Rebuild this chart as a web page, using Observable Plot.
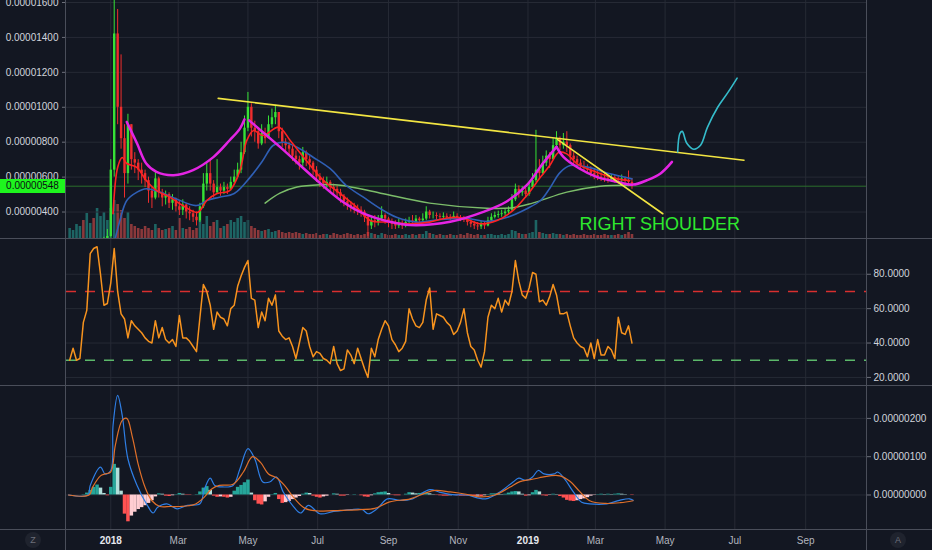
<!DOCTYPE html>
<html>
<head>
<meta charset="utf-8">
<script src="https://cdn.jsdelivr.net/npm/d3@7"></script>
<script src="https://cdn.jsdelivr.net/npm/@observablehq/plot@0.6"></script>
<style>
  html, body { margin: 0; padding: 0; background: #131722; }
  #chart { position: relative; width: 932px; height: 550px; background: #131722; overflow: hidden;
           font-family: "Liberation Sans", Arial, sans-serif; }
  #chart svg { position: absolute; left: 0; }
  .sep { position: absolute; background: #4a4e5a; }
  .lastbox { position: absolute; left: 0; top: 179px; width: 65px; height: 14px; background: #1ef51e;
             color: #0b0e14; font-size: 10px; line-height: 14px; text-align: center; }
  .btn { position: absolute; width: 16px; height: 16px; border-radius: 8px; background: #1f232e;
         color: #6d707b; font-size: 9px; line-height: 16px; text-align: center; }
</style>
</head>
<body>
<div id="chart"></div>
<script>
// ---------------- DATA (prices in units of 1e-8 BTC) ----------------
const candleStart = "2017-11-26";   // first sampled day
const stepDays = 3;                 // one sample every 3 days
const firstOpen = 165;

const closes = [170,175,180,190,185,200,210,205,220,230,240,260,
  640,1420,1000,820,620,900,700,680,640,620,580,520,480,590,510,480,500,450,470,430,410,440,400,390,370,350,
  430,560,620,560,510,540,520,540,530,570,600,640,740,880,1000,880,860,790,850,820,900,940,970,860,800,780,760,
  720,700,680,740,700,680,640,600,580,560,570,540,530,510,490,460,440,430,420,410,400,370,320,350,340,360,380,
  360,340,330,320,330,320,340,350,340,360,350,360,400,380,380,375,370,375,370,368,375,365,360,355,340,330,320,
  315,330,320,350,370,380,385,390,400,410,470,530,510,520,500,540,580,640,620,680,720,700,780,820,780,800,780,
  720,700,680,660,650,640,620,610,600,595,590,585,595,585,580,590,575,570,548];

const highs = [180,185,195,200,200,215,225,220,235,245,255,300,
  700,1650,1560,1300,900,960,800,740,700,680,640,600,540,630,600,530,520,510,500,480,460,470,450,430,410,400,
  450,620,680,700,580,700,560,570,560,600,640,680,800,950,1085,1020,920,880,900,880,950,990,1011,960,880,820,800,
  780,750,720,770,750,720,690,660,620,600,600,580,560,550,530,500,480,460,450,440,430,410,380,370,380,380,430,
  390,370,360,350,360,350,360,370,380,380,370,390,430,410,400,395,390,395,390,385,400,390,380,375,365,355,345,
  340,345,340,370,390,400,405,410,420,430,500,560,550,545,535,570,620,868,700,720,750,740,820,860,830,850,860,
  790,740,720,700,690,670,660,650,640,625,620,610,615,610,605,612,600,635,590];

const lows = [160,165,170,175,178,185,195,195,205,215,225,200,
  250,600,900,760,480,560,640,620,580,560,540,450,420,470,480,430,440,420,410,400,380,380,360,350,340,320,
  340,420,520,520,480,500,490,500,500,520,560,590,620,730,860,830,800,760,780,790,820,880,900,820,770,740,720,
  690,670,640,660,660,640,610,570,540,530,530,510,500,480,450,430,410,400,390,380,370,340,260,300,310,320,350,
  330,310,300,300,305,300,310,320,320,330,330,340,350,360,360,355,355,360,355,350,360,350,345,340,320,310,300,
  295,300,300,315,340,360,365,370,375,385,400,460,480,490,480,490,530,570,590,610,660,650,700,760,750,760,740,
  690,670,650,640,630,615,600,585,580,575,570,565,570,565,560,565,555,545,530];

const volumes = [10,8,14,12,18,25,15,20,30,22,26,18,30,
  38,34,28,20,26,
  14,12,10,9,12,10,8,14,10,8,9,10,12,8,20,10,9,11,8,10,
  18,14,22,12,16,18,10,12,14,18,16,20,22,16,18,
  12,10,8,7,8,9,6,7,8,6,5,6,5,6,5,4,5,4,
  4,5,3,4,4,3,5,4,3,4, 5,4,3,4,3,4,6,5,4,3, 5,4,3,3,4,3,3,4,3,4, 3,4,4,7,5,4,3,4,3,3,
  4,3,3,4,3,5,4,3,4,3, 3,4,4,3,3,4,3,4,8,7, 5,4,4,5,6,18,6,5,4,4, 5,4,4,3,4,3,4,3,3,4,
  3,3,4,3,3,4,3,3,3,4, 3,4,6,4];

const rsiValues = [30,37,30,31,52,59,92,95,96,80, 62,63,75,95,70,57,54,43,53,50,
  48,46,43,41,40,53,43,49,42,40, 42,38,56,43,43,41,38,35,55,74, 70,62,48,58,55,54,50,60,62,73,
  79,84,88,66,65,49,58,53,66,62, 68,47,44,42,43,38,31,40,49,47, 38,32,35,34,31,30,28,38,28,24,
  25,36,33,28,37,31,25,20,37,32, 42,48,53,50,42,39,35,37,41,60, 54,50,49,52,65,72,48,57,56,55,
  52,50,45,47,52,60,46,38,36,30, 26,35,55,62,60,66,58,65,62,70, 88,76,68,66,72,81,80,64,65,62,
  67,74,68,57,57,58,50,43,40,38, 37,32,40,31,42,33,33,38,36,31, 55,46,45,50,40];

// MACD histogram (units of 1e-8)
const macdHist = [0,0,0,0,1,5,12,20,26,18, 4,-2,20,80,70,10,-50,-70,-55,-45,
  -38,-33,-28,-22,-15,-5,3,2,-3,-4, -2,1,4,2,-1,-1,0,1,8,18, 22,12,-3,-6,-5,-6,-8,-6,10,20,
  25,32,39,5,-15,-24,-26,-18,-6,1, 4,-12,-22,-20,-17,-12,-8,-4,2,5, 4,-3,-6,-8,-5,-3,0,3,2,-3,
  -3,-1,0,1,0,-2,-5,-6,-2,3, 6,7,8,4,-1,-2,-2,0,2,6, 5,3,4,5,5,3,1,-1,-2,-3,
  -3,-2,-1,-2,-3,-3,-3,-4,-4,-3, -4,-2,1,3,3,2,1,2,5,8, 9,8,2,-3,-2,6,12,8,-2,-3,
  -1,2,1,-4,-8,-14,-16,-17,-15,-12, -10,-7,-3,-1,1,2,1,2,1,2, 3,2,1,0,-1];

const macdLine = [["2017-11-25",0],["2017-12-12",0],["2017-12-14",25],["2017-12-23",73],["2017-12-27",55],
  ["2018-01-01",64],["2018-01-03",182],["2018-01-07",260],["2018-01-11",208],["2018-01-16",94],["2018-01-24",25],
  ["2018-02-02",-27],["2018-02-07",-47],["2018-02-11",-32],["2018-02-19",-23],["2018-02-28",-36],["2018-03-09",-27],
  ["2018-03-20",-23],["2018-03-24",16],["2018-03-29",44],["2018-04-02",25],["2018-04-09",21],["2018-04-18",25],
  ["2018-04-24",68],["2018-05-01",121],["2018-05-07",94],["2018-05-14",34],["2018-05-20",34],["2018-05-26",47],
  ["2018-06-01",7],["2018-06-09",-27],["2018-06-16",-47],["2018-06-23",-27],["2018-07-03",-49],["2018-07-15",-43],
  ["2018-07-30",-38],["2018-08-09",-38],["2018-08-14",-49],["2018-08-22",-36],["2018-08-31",-10],["2018-09-11",-14],
  ["2018-09-22",-10],["2018-10-07",14],["2018-10-16",7],["2018-10-27",1],["2018-11-08",0],["2018-11-25",-10],
  ["2018-12-07",7],["2018-12-19",34],["2018-12-24",44],["2018-12-30",38],["2019-01-05",47],["2019-01-10",64],
  ["2019-01-15",55],["2019-01-24",55],["2019-01-27",60],["2019-02-02",42],["2019-02-10",7],["2019-02-17",-19],
  ["2019-02-24",-23],["2019-03-11",-23],["2019-03-22",-14],["2019-03-31",-10],["2019-04-03",-14]];

const signalLine = [["2017-11-25",0],["2017-12-13",0],["2017-12-16",20],["2017-12-23",50],["2017-12-27",55],
  ["2018-01-01",60],["2018-01-05",130],["2018-01-11",195],["2018-01-15",200],["2018-01-20",150],["2018-01-25",80],
  ["2018-01-31",20],["2018-02-06",-15],["2018-02-13",-30],["2018-02-22",-30],["2018-03-02",-30],["2018-03-15",-25],
  ["2018-03-24",-5],["2018-03-30",15],["2018-04-06",25],["2018-04-18",28],["2018-04-27",60],["2018-05-05",100],
  ["2018-05-12",85],["2018-05-19",55],["2018-05-26",45],["2018-06-02",25],["2018-06-11",-10],["2018-06-20",-35],
  ["2018-07-03",-42],["2018-07-21",-40],["2018-08-07",-38],["2018-08-20",-35],["2018-09-02",-18],["2018-09-20",-10],
  ["2018-10-03",5],["2018-10-12",12],["2018-10-25",8],["2018-11-08",2],["2018-11-20",-5],["2018-12-03",0],
  ["2018-12-16",20],["2018-12-25",35],["2019-01-03",40],["2019-01-11",45],["2019-01-20",50],["2019-01-29",50],
  ["2019-02-07",35],["2019-02-15",10],["2019-02-24",-15],["2019-03-10",-22],["2019-03-23",-20],["2019-04-03",-15]];

// moving averages
const maShort = [["2018-01-03",391],["2018-01-07",655],["2018-01-11",712],["2018-01-15",678],["2018-01-24",655],
  ["2018-02-01",580],["2018-02-10",523],["2018-02-22",484],["2018-03-05",437],["2018-03-18",398],["2018-03-26",466],
  ["2018-04-04",506],["2018-04-15",523],["2018-04-24",638],["2018-04-30",810],["2018-05-06",867],["2018-05-14",838],
  ["2018-05-28",886],["2018-06-07",810],["2018-06-21",695],["2018-07-06",581],["2018-07-21",504],["2018-08-04",428],
  ["2018-08-16",352],["2018-09-02",342],["2018-09-20",333],["2018-10-07",342],["2018-10-22",366],["2018-11-05",366],
  ["2018-11-20",333],["2018-12-05",352],["2018-12-19",409],["2018-12-31",495],["2019-01-12",600],["2019-01-20",666],
  ["2019-01-28",743],["2019-02-04",733],["2019-02-13",676],["2019-03-02",628],["2019-03-20",590],["2019-03-31",581]];
const maMid = [["2018-01-05",250],["2018-01-09",352],["2018-01-15",466],["2018-01-24",514],["2018-02-01",533],
  ["2018-02-13",514],["2018-02-27",476],["2018-03-17",437],["2018-03-26",466],["2018-04-06",485],["2018-04-19",506],
  ["2018-05-03",600],["2018-05-14",695],["2018-05-23",781],["2018-06-01",800],["2018-06-13",771],["2018-06-27",714],
  ["2018-07-12",648],["2018-07-26",552],["2018-08-10",485],["2018-08-25",419],["2018-09-08",370],["2018-09-26",342],
  ["2018-10-16",357],["2018-11-09",363],["2018-11-26",346],["2018-12-14",370],["2018-12-31",419],["2019-01-12",466],
  ["2019-01-20",535],["2019-01-29",626],["2019-02-07",666],["2019-02-22",657],["2019-03-14",619],["2019-04-02",590]];
const maLong = [["2018-05-16",451],["2018-05-29",508],["2018-06-13",543],["2018-07-03",556],["2018-07-21",554],
  ["2018-08-25",508],["2018-10-07",451],["2018-11-26",422],["2018-12-19",425],["2019-01-05",451],
  ["2019-02-04",514],["2019-03-05",548],["2019-04-02",554]];

// hand-drawn annotations
const cupLeft = [["2018-01-15",916],["2018-01-24",792],["2018-02-01",678],["2018-02-10",630],["2018-02-25",611],
  ["2018-03-14",640],["2018-04-01",716],["2018-04-15",811],["2018-04-24",878],["2018-04-28",931]];
const cupMiddle = [["2018-05-02",925],["2018-05-29",773],["2018-06-27",601],["2018-07-21",468],["2018-08-10",392],
  ["2018-09-02",344],["2018-09-20",325],["2018-10-25",344],["2018-11-23",401],["2018-12-13",459],
  ["2018-12-31",554],["2019-01-14",678],["2019-01-26",773]];
const cupRight = [["2019-01-26",773],["2019-02-01",716],["2019-02-15",649],["2019-03-02",601],["2019-03-20",573],
  ["2019-04-03",557],["2019-04-15",582],["2019-04-27",621],["2019-05-07",687]];
const trendTop = [["2018-04-05",1051],["2019-07-09",697]];
const trendRight = [["2019-01-27",815],["2019-04-29",390]];
const projection = [["2019-05-12",744],["2019-05-14",851],["2019-05-16",862],["2019-05-20",794],["2019-05-26",760],
  ["2019-06-01",782],["2019-06-07",885],["2019-06-16",1000],["2019-06-25",1085],["2019-07-03",1167]];
const noteText = "RIGHT SHOULDER";
const notePos = ["2019-02-15", 331];

// axes
const xDomain = ["2017-11-23T06:00:00Z", "2019-10-24T05:00:00Z"];
const timeTicks = ["2018-01-01","2018-03-01","2018-05-01","2018-07-01","2018-09-01","2018-11-01",
  "2019-01-01","2019-03-01","2019-05-01","2019-07-01","2019-09-01"];
const priceTicks = [400,600,800,1000,1200,1400,1600];
const priceDomain = [248.4, 1611.5];
const rsiTicks = [20,40,60,80];
const rsiDomain = [15.3, 100.8];
const rsiLevels = [70, 30];
const macdTicks = [0,100,200];
const macdDomain = [-90.1, 285.9];

// ---------------- BUILD ----------------
const iso = s => new Date(s.length === 10 ? s + "T00:00:00Z" : s);
const pts = arr => arr.map(([d, v]) => ({date: iso(d), value: v}));
const start = iso(candleStart);
const candles = closes.map((c, i) => {
  const o = i ? closes[i - 1] : firstOpen;
  return {date: d3.utcDay.offset(start, i * stepDays), open: o, close: c,
    high: Math.max(highs[i], o, c), low: Math.min(lows[i], o, c),
    vol: volumes[i], rsi: rsiValues[i], hist: macdHist[i],
    histPrev: i ? macdHist[i - 1] : 0};
});
const UP = "#36e236", DOWN = "#ee2d2d";
const candleColor = d => d.close >= d.open ? UP : DOWN;
const GRID = "#262a35";
const X = {type: "utc", domain: xDomain.map(iso)};
const ticksDates = timeTicks.map(iso);
const baseStyle = {background: "transparent", color: "#c9ccd4",
  fontFamily: "'Liberation Sans', Arial, sans-serif", fontSize: "10px", overflow: "visible"};
const fmtSat = v => (v * 1e-8).toFixed(8);

const chart = document.getElementById("chart");
function place(svg, top) { svg.style.top = top + "px"; svg.style.left = "0px"; svg.style.position = "absolute"; chart.appendChild(svg); }

// volume overlay (bottom of price pane)
const volPlot = Plot.plot({
  width: 932, height: 100, marginLeft: 66, marginRight: 66, marginTop: 0, marginBottom: 0,
  style: baseStyle,
  x: {...X, axis: null}, y: {domain: [0, 100], axis: null},
  marks: [
    Plot.ruleX(candles, {x: "date", y1: 0, y2: "vol", stroke: d => d.close >= d.open ? "#26a69a" : "#ef5350",
      strokeOpacity: 0.55, strokeWidth: 2.6})
  ]
});
place(volPlot, 138);

// price pane
const lastClose = closes[closes.length - 1];
const pricePlot = Plot.plot({
  width: 932, height: 238, marginLeft: 66, marginRight: 66, marginTop: 0, marginBottom: 0,
  style: baseStyle,
  x: {...X, axis: null}, y: {domain: priceDomain},
  marks: [
    Plot.gridX(ticksDates, {stroke: GRID, strokeOpacity: 1}),
    Plot.gridY(priceTicks, {stroke: GRID, strokeOpacity: 1}),
    Plot.ruleY([lastClose], {stroke: "#2c6e2c", strokeWidth: 1}),
    Plot.ruleX(candles, {x: "date", y1: "low", y2: "high", stroke: candleColor, strokeWidth: 1, clip: true}),
    Plot.ruleX(candles, {x: "date", y1: "open", y2: "close", stroke: candleColor, strokeWidth: 2.4, clip: true}),
    Plot.line(pts(maLong), {x: "date", y: "value", stroke: "#7cbd6a", strokeWidth: 1.5, curve: "catmull-rom", clip: true}),
    Plot.line(pts(maMid), {x: "date", y: "value", stroke: "#2f5fb5", strokeWidth: 1.6, curve: "catmull-rom", clip: true}),
    Plot.line(pts(maShort), {x: "date", y: "value", stroke: "#ff2222", strokeWidth: 1.6, curve: "catmull-rom", clip: true}),
    Plot.line(pts(cupLeft), {x: "date", y: "value", stroke: "#e424e4", strokeWidth: 2.5, curve: "catmull-rom"}),
    Plot.line(pts(cupMiddle), {x: "date", y: "value", stroke: "#e424e4", strokeWidth: 2.5, curve: "catmull-rom"}),
    Plot.line(pts(cupRight), {x: "date", y: "value", stroke: "#e424e4", strokeWidth: 2.5, curve: "catmull-rom"}),
    Plot.line(pts(trendTop), {x: "date", y: "value", stroke: "#f2e542", strokeWidth: 1.6}),
    Plot.line(pts(trendRight), {x: "date", y: "value", stroke: "#f2e542", strokeWidth: 1.6}),
    Plot.line(pts(projection), {x: "date", y: "value", stroke: "#35bccb", strokeWidth: 1.6, curve: "catmull-rom"}),
    Plot.text([{date: iso(notePos[0]), value: notePos[1], label: noteText}],
      {x: "date", y: "value", text: "label", fill: "#2ee82e", fontSize: 18, textAnchor: "start", lineAnchor: "middle"}),
    Plot.axisY(priceTicks, {anchor: "left", label: null, tickSize: 4, tickPadding: 4, tickFormat: fmtSat, stroke: "#6d707b", fill: "#d1d4dc"})
  ]
});
place(pricePlot, 0);

// RSI pane
const rsiPlot = Plot.plot({
  width: 932, height: 147, marginLeft: 66, marginRight: 66, marginTop: 0, marginBottom: 0,
  style: baseStyle,
  x: {...X, axis: null}, y: {domain: rsiDomain},
  marks: [
    Plot.gridX(ticksDates, {stroke: GRID, strokeOpacity: 1}),
    Plot.gridY(rsiTicks, {stroke: GRID, strokeOpacity: 1}),
    Plot.ruleY([rsiLevels[0]], {stroke: "#d82f2f", strokeWidth: 1.5, strokeDasharray: "10,9"}),
    Plot.ruleY([rsiLevels[1]], {stroke: "#5cb86a", strokeWidth: 1.5, strokeDasharray: "10,9"}),
    Plot.lineY(candles, {x: "date", y: "rsi", stroke: "#f7931e", strokeWidth: 1.5, clip: true}),
    Plot.axisY(rsiTicks, {anchor: "right", label: null, tickSize: 4, tickPadding: 3, tickFormat: d3.format(".4f"), stroke: "#6d707b", fill: "#d1d4dc"})
  ]
});
place(rsiPlot, 238);

// MACD pane + time axis
const histColor = d => d.hist >= 0 ? (d.hist >= d.histPrev ? "#26a69a" : "#b2dfdb")
                                   : (d.hist <= d.histPrev ? "#ff5252" : "#ffcdd2");
const monthFmt = d3.utcFormat("%b");
const macdPlot = Plot.plot({
  width: 932, height: 165, marginLeft: 66, marginRight: 66, marginTop: 0, marginBottom: 21,
  style: baseStyle,
  x: X, y: {domain: macdDomain},
  marks: [
    Plot.gridX(ticksDates, {stroke: GRID, strokeOpacity: 1}),
    Plot.gridY(macdTicks, {stroke: GRID, strokeOpacity: 1}),
    Plot.ruleX(candles, {x: "date", y1: 0, y2: "hist", stroke: histColor, strokeWidth: 3.5}),
    Plot.line(pts(macdLine), {x: "date", y: "value", stroke: "#2f7fe6", strokeWidth: 1.2, curve: "catmull-rom"}),
    Plot.line(pts(signalLine), {x: "date", y: "value", stroke: "#e0702a", strokeWidth: 1.2, curve: "catmull-rom"}),
    Plot.axisY(macdTicks, {anchor: "right", label: null, tickSize: 4, tickPadding: 3, tickFormat: fmtSat, stroke: "#6d707b", fill: "#d1d4dc"}),
    Plot.axisX(ticksDates, {anchor: "bottom", label: null, tickSize: 0, tickPadding: 7, fill: "#b2b5be",
      tickFormat: d => d.getUTCMonth() === 0 ? String(d.getUTCFullYear()) : monthFmt(d)})
  ]
});
place(macdPlot, 385);
d3.select(macdPlot).selectAll("text").each(function () {
  if (/^\d{4}$/.test(this.textContent)) { this.setAttribute("font-weight", "bold"); this.setAttribute("fill", "#e6e8ee"); }
});

// pane separators, last-price label, buttons
function div(cls, css, text) { const e = document.createElement("div"); e.className = cls; Object.assign(e.style, css); if (text) e.textContent = text; chart.appendChild(e); }
div("sep", {left: "65px", top: "0px", width: "1px", height: "550px"});
div("sep", {left: "866px", top: "0px", width: "1px", height: "550px"});
div("sep", {left: "0px", top: "238px", width: "932px", height: "1px"});
div("sep", {left: "0px", top: "385px", width: "932px", height: "1px"});
div("sep", {left: "0px", top: "529px", width: "932px", height: "1px"});
div("lastbox", {}, fmtSat(lastClose));
div("btn", {left: "25px", top: "532px"}, "Z");
div("btn", {left: "890px", top: "532px"}, "A");
</script>
</body>
</html>
